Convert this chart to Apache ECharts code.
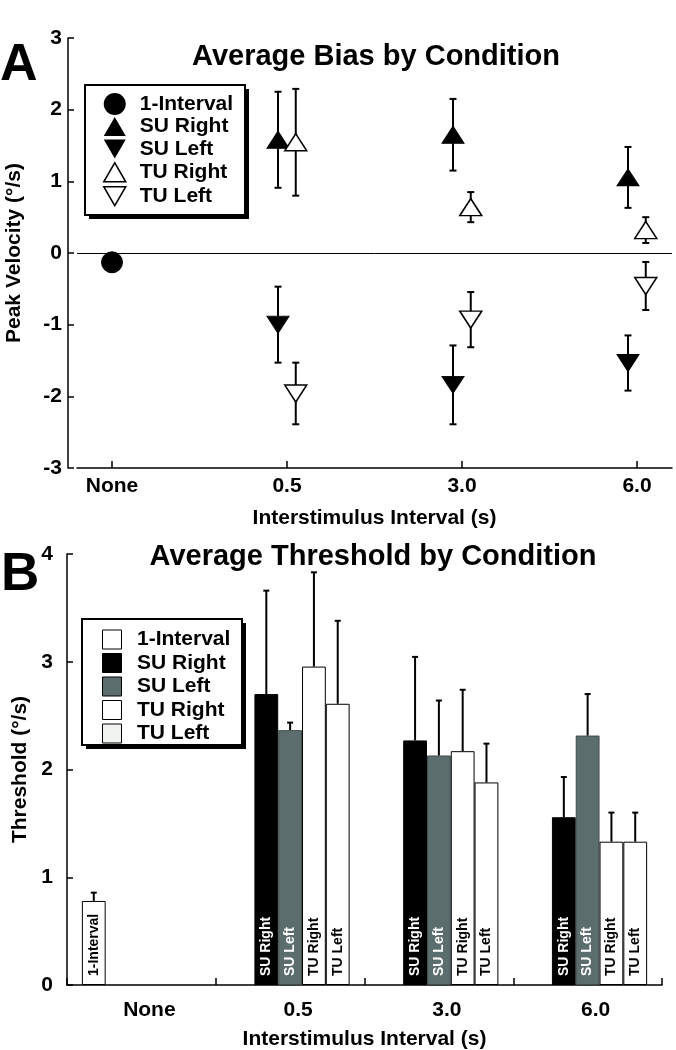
<!DOCTYPE html>
<html><head><meta charset="utf-8">
<script src="https://cdn.jsdelivr.net/npm/echarts@6/dist/echarts.min.js"></script>
<style>html,body{margin:0;padding:0;background:#fff}#c{width:676px;height:1050px}</style>
</head><body><div id="c"></div>
<script>
// ---------- Panel A: Average Bias by Condition ----------
const biasCategories = ['None', '0.5', '3.0', '6.0'];
const biasYTicks = [-3, -2, -1, 0, 1, 2, 3];
const biasOneInterval = [-0.13];              // at "None"
const biasSURight = [1.58, 1.65, 1.055];      // at 0.5, 3.0, 6.0
const biasSURightErr = [0.67, 0.50, 0.425];
const biasSULeft = [-1.0, -1.84, -1.535];
const biasSULeftErr = [0.53, 0.55, 0.385];
const biasTURight = [1.545, 0.64, 0.32];
const biasTURightErr = [0.745, 0.21, 0.18];
const biasTULeft = [-1.96, -0.93, -0.46];
const biasTULeftErr = [0.43, 0.385, 0.335];

// ---------- Panel B: Average Threshold by Condition ----------
const thrCategories = ['None', '0.5', '3.0', '6.0'];
const thrYTicks = [0, 1, 2, 3, 4];
const thrOneInterval = [0.78, null, null, null];
const thrOneIntervalErr = [0.077, null, null, null];
const thrSURight = [null, 2.70, 2.27, 1.557];
const thrSURightErr = [null, 0.96, 0.775, 0.373];
const thrSULeft = [null, 2.365, 2.13, 2.315];
const thrSULeftErr = [null, 0.07, 0.51, 0.385];
const thrTURight = [null, 2.955, 2.17, 1.33];
const thrTURightErr = [null, 0.875, 0.57, 0.27];
const thrTULeft = [null, 2.61, 1.88, 1.33];
const thrTULeftErr = [null, 0.77, 0.36, 0.27];

// ---------- styling constants ----------
const FONT = '"Liberation Sans", Arial, Helvetica, sans-serif';
const GRAY = '#5c6d6d';
const SU_OFFSET = -0.0514, TU_OFFSET = 0.05;   // horizontal dodge in category units
const BAR_W = 23.8;
const DOWN_TRI = 'path://M0,0L2,0L1,2Z';
const ICON_CIRCLE = 'path://M0,0M22,22M11,0A11,11,0,1,1,11,22A11,11,0,1,1,11,0Z';
const ICON_UP = 'path://M0,0M22,22M11,1.5L22,20.5L0,20.5Z';
const ICON_DOWN = 'path://M0,0M22,22M0,1.5L22,1.5L11,20.5Z';
const ICON_SQ = 'path://M0,0M22,22M1.5,1.5H20.5V20.5H1.5Z';

const boldText = (size) => ({ fontFamily: FONT, fontWeight: 'bold', fontSize: size, color: '#000' });

function pts(vals, offset) { return vals.map((v, i) => [i + 1 + offset, v]); }
function errPts(vals, errs, offset) { return vals.map((v, i) => [i + 1 + offset, v - errs[i], v + errs[i]]); }

function errRender(capHalf) {
  return function (params, api) {
    const x = api.value(0), lo = api.value(1), hi = api.value(2);
    const a = api.coord([x, lo]), b = api.coord([x, hi]);
    const st = { stroke: '#000', lineWidth: 2 };
    return { type: 'group', children: [
      { type: 'line', shape: { x1: a[0], y1: a[1], x2: b[0], y2: b[1] }, style: st },
      { type: 'line', shape: { x1: a[0] - capHalf, y1: a[1], x2: a[0] + capHalf, y2: a[1] }, style: st },
      { type: 'line', shape: { x1: b[0] - capHalf, y1: b[1], x2: b[0] + capHalf, y2: b[1] }, style: st }
    ]};
  };
}

function barErrData(vals, errs) {
  const out = [];
  vals.forEach((v, i) => { if (v != null) out.push([i, v, v + errs[i]]); });
  return out;
}
function barErrRender(slot) {
  return function (params, api) {
    const c = api.value(0), lo = api.value(1), hi = api.value(2);
    const dx = (slot - 2) * BAR_W;
    const a = api.coord([c, lo]), b = api.coord([c, hi]);
    const st = { stroke: '#000', lineWidth: 2 };
    return { type: 'group', children: [
      { type: 'line', shape: { x1: a[0] + dx, y1: a[1], x2: b[0] + dx, y2: b[1] }, style: st },
      { type: 'line', shape: { x1: b[0] + dx - 3, y1: b[1], x2: b[0] + dx + 3, y2: b[1] }, style: st }
    ]};
  };
}

const scatterBase = { type: 'scatter', xAxisIndex: 0, yAxisIndex: 0, z: 5, silent: true };
const filled = { color: '#000', borderColor: '#000', borderWidth: 1, opacity: 1 };
const hollow = { color: '#fff', borderColor: '#000', borderWidth: 1.5, opacity: 1 };
const errBase = { type: 'custom', xAxisIndex: 0, yAxisIndex: 0, z: 3, silent: true, encode: { x: 0, y: [1, 2] } };

const barLabel = (color) => ({
  show: true, position: 'insideBottom', rotate: 90, align: 'left', verticalAlign: 'middle',
  distance: 9, formatter: '{a}', color: color, fontFamily: FONT, fontWeight: 'bold', fontSize: 14
});
const barBase = { type: 'bar', xAxisIndex: 1, yAxisIndex: 1, barWidth: BAR_W, barGap: '0%', silent: true };
const barErrBase = { type: 'custom', xAxisIndex: 1, yAxisIndex: 1, z: 4, silent: true, encode: { x: 0, y: [1, 2] } };

const legendCommon = {
  orient: 'vertical', itemWidth: 40, itemHeight: 22, itemGap: 0.5, selectedMode: false, symbolKeepAspect: true,
  backgroundColor: 'transparent', borderWidth: 0,
  textStyle: Object.assign(boldText(21), { lineHeight: 22 })
};
const legItem = (name, icon, color, bw) => ({ name, icon, itemStyle: { color, borderColor: '#000', borderWidth: bw, opacity: 1 } });

// legend frame with hard drop shadow (decoration)
function frame(x, y, w, h) {
  return [
    { type: 'rect', z: 1, shape: { x: x + 4, y: y + 4, width: w, height: h }, style: { fill: '#000' }, silent: true },
    { type: 'rect', z: 2, shape: { x: x, y: y, width: w, height: h }, style: { fill: '#fff', stroke: '#000', lineWidth: 2 }, silent: true }
  ];
}

const option = {
  animation: false,
  backgroundColor: '#fff',
  graphic: [
    { type: 'text', x: 0, y: 40, style: { text: 'A', font: 'bold 52px ' + FONT, fill: '#000', textAlign: 'left', textVerticalAlign: 'top' } },
    { type: 'text', x: 376, y: 42, style: { text: 'Average Bias by Condition', font: 'bold 29px ' + FONT, fill: '#000', textAlign: 'center', textVerticalAlign: 'top' } },
    { type: 'text', x: 1, y: 549, style: { text: 'B', font: 'bold 53px ' + FONT, fill: '#000', textAlign: 'left', textVerticalAlign: 'top' } },
    { type: 'text', x: 373, y: 542, style: { text: 'Average Threshold by Condition', font: 'bold 29px ' + FONT, fill: '#000', textAlign: 'center', textVerticalAlign: 'top' } },
    ...frame(85, 85, 160, 130),
    ...frame(82, 619, 160, 126)
  ],
  grid: [
    { left: 77, right: 4, top: 38, bottom: 582, containLabel: false, outerBoundsMode: 'none' },
    { left: 67, right: 14, top: 554, bottom: 65, containLabel: false, outerBoundsMode: 'none' }
  ],
  legend: [
    Object.assign({}, legendCommon, {
      left: 85, top: 86, padding: [7, 15, 13, 18],
      data: [
        legItem('1-Interval', ICON_CIRCLE, '#000', 0),
        legItem('SU Right', ICON_UP, '#000', 0),
        legItem('SU Left', ICON_DOWN, '#000', 0),
        legItem('TU Right', ICON_UP, '#fff', 1.5),
        legItem('TU Left', ICON_DOWN, '#fff', 1.5)
      ]
    }),
    Object.assign({}, legendCommon, {
      left: 82, top: 619, padding: [9, 15, 8, 18.5],
      data: [
        legItem('1-Interval', ICON_SQ, '#fff', 1),
        legItem('SU Right', ICON_SQ, '#000', 1),
        legItem('SU Left', ICON_SQ, GRAY, 1),
        legItem('TU Right', ICON_SQ, '#fff', 1),
        legItem('TU Left', ICON_SQ, '#f1f3f0', 1)
      ]
    })
  ],
  xAxis: [
    {
      gridIndex: 0, type: 'value', min: -0.2, max: 3.2,
      axisLine: { show: true, onZero: false, lineStyle: { color: '#000', width: 1.5 } },
      axisTick: { show: true, inside: true, length: 7, customValues: [0, 1, 2, 3], lineStyle: { color: '#000', width: 1.5 } },
      axisLabel: { customValues: [0, 1, 2, 3], formatter: (v) => biasCategories[Math.round(v)], margin: 8, ...boldText(21) },
      splitLine: { show: false },
      name: 'Interstimulus Interval (s)', nameLocation: 'middle', nameGap: 40, nameTextStyle: boldText(21)
    },
    {
      gridIndex: 1, type: 'category', data: thrCategories, boundaryGap: true,
      axisLine: { show: true, onZero: false, lineStyle: { color: '#000', width: 1.5 } },
      axisTick: { show: true, inside: true, length: 7, lineStyle: { color: '#000', width: 1.5 } },
      axisLabel: { margin: 15, padding: [0, 0, 0, 16], ...boldText(21) },
      splitLine: { show: false },
      name: 'Interstimulus Interval (s)', nameLocation: 'middle', nameGap: 44, nameTextStyle: boldText(21)
    }
  ],
  yAxis: [
    {
      gridIndex: 0, type: 'value', min: biasYTicks[0], max: biasYTicks[biasYTicks.length - 1], interval: 1, offset: 9,
      axisLine: { show: true, onZero: false, lineStyle: { color: '#000', width: 1.5 } },
      axisTick: { show: true, inside: true, length: 6, lineStyle: { color: '#000', width: 1.5 } },
      axisLabel: { margin: 6, ...boldText(21) },
      splitLine: { show: false },
      name: 'Peak Velocity (°/s)', nameLocation: 'middle', nameGap: 43, nameTextStyle: boldText(21)
    },
    {
      gridIndex: 1, type: 'value', min: thrYTicks[0], max: thrYTicks[thrYTicks.length - 1], interval: 1,
      axisLine: { show: true, onZero: false, lineStyle: { color: '#000', width: 1.5 } },
      axisTick: { show: true, inside: true, length: 6, lineStyle: { color: '#000', width: 1.5 } },
      axisLabel: { margin: 14, ...boldText(21) },
      splitLine: { show: false },
      name: 'Threshold (°/s)', nameLocation: 'middle', nameGap: 28, nameTextStyle: boldText(21)
    }
  ],
  series: [
    // ----- Panel A -----
    Object.assign({}, errBase, { name: 'errSUR', data: errPts(biasSURight, biasSURightErr, SU_OFFSET), renderItem: errRender(3.5) }),
    Object.assign({}, errBase, { name: 'errTUR', data: errPts(biasTURight, biasTURightErr, TU_OFFSET), renderItem: errRender(3.5) }),
    Object.assign({}, errBase, { name: 'errSUL', data: errPts(biasSULeft, biasSULeftErr, SU_OFFSET), renderItem: errRender(3.5) }),
    Object.assign({}, errBase, { name: 'errTUL', data: errPts(biasTULeft, biasTULeftErr, TU_OFFSET), renderItem: errRender(3.5) }),
    Object.assign({}, scatterBase, {
      name: '1-Interval', data: biasOneInterval.map((v) => [0, v]), symbol: 'circle', symbolSize: 21, itemStyle: filled,
      markLine: { silent: true, symbol: ['none', 'none'], label: { show: false }, lineStyle: { color: '#000', width: 1, type: 'solid', opacity: 1 }, data: [{ yAxis: 0 }], z: 1 }
    }),
    Object.assign({}, scatterBase, { name: 'SU Right', data: pts(biasSURight, SU_OFFSET), symbol: 'triangle', symbolSize: [22, 17], itemStyle: filled }),
    Object.assign({}, scatterBase, { name: 'SU Left', data: pts(biasSULeft, SU_OFFSET), symbol: DOWN_TRI, symbolKeepAspect: false, symbolSize: [22, 17], itemStyle: filled }),
    Object.assign({}, scatterBase, { name: 'TU Right', data: pts(biasTURight, TU_OFFSET), symbol: 'triangle', symbolSize: [22, 17], itemStyle: hollow }),
    Object.assign({}, scatterBase, { name: 'TU Left', data: pts(biasTULeft, TU_OFFSET), symbol: DOWN_TRI, symbolKeepAspect: false, symbolSize: [22, 17], itemStyle: hollow }),
    // ----- Panel B -----
    Object.assign({}, barBase, { name: '1-Interval', data: thrOneInterval, itemStyle: { color: '#fff', borderColor: '#000', borderWidth: 1 }, label: barLabel('#000') }),
    Object.assign({}, barBase, { name: 'SU Right', data: thrSURight, itemStyle: { color: '#000', borderColor: '#000', borderWidth: 1 }, label: barLabel('#fff') }),
    Object.assign({}, barBase, { name: 'SU Left', data: thrSULeft, itemStyle: { color: GRAY, borderColor: '#3f4a4a', borderWidth: 1 }, label: barLabel('#fff') }),
    Object.assign({}, barBase, { name: 'TU Right', data: thrTURight, itemStyle: { color: '#fff', borderColor: '#000', borderWidth: 1 }, label: barLabel('#000') }),
    Object.assign({}, barBase, { name: 'TU Left', data: thrTULeft, itemStyle: { color: '#fff', borderColor: '#000', borderWidth: 1 }, label: barLabel('#000') }),
    Object.assign({}, barErrBase, { name: 'bErr1', data: barErrData(thrOneInterval, thrOneIntervalErr), renderItem: barErrRender(0) }),
    Object.assign({}, barErrBase, { name: 'bErr2', data: barErrData(thrSURight, thrSURightErr), renderItem: barErrRender(1) }),
    Object.assign({}, barErrBase, { name: 'bErr3', data: barErrData(thrSULeft, thrSULeftErr), renderItem: barErrRender(2) }),
    Object.assign({}, barErrBase, { name: 'bErr4', data: barErrData(thrTURight, thrTURightErr), renderItem: barErrRender(3) }),
    Object.assign({}, barErrBase, { name: 'bErr5', data: barErrData(thrTULeft, thrTULeftErr), renderItem: barErrRender(4) })
  ]
};

const chart = echarts.init(document.getElementById('c'), null, { renderer: 'canvas', width: 676, height: 1050 });
chart.setOption(option);
</script>
</body></html>
